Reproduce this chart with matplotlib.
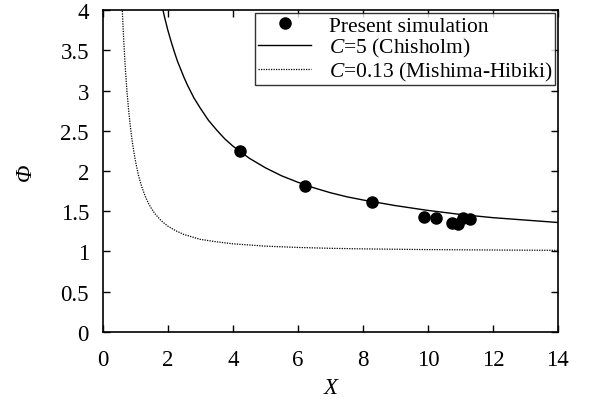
import matplotlib
matplotlib.use("Agg")
import matplotlib.pyplot as plt

plt.rcParams["font.family"] = ["Liberation Serif", "DejaVu Serif"]
plt.rcParams["mathtext.fontset"] = "custom"
plt.rcParams["mathtext.it"] = "Liberation Serif:italic"
plt.rcParams["mathtext.rm"] = "Liberation Serif"

# present simulation points
sim_x = [4.22, 6.23, 8.27, 9.87, 10.26, 10.75, 10.93, 11.08, 11.3]
sim_phi = [2.25, 1.81, 1.61, 1.43, 1.42, 1.35, 1.34, 1.42, 1.40]

# C=5 (Chisholm) curve
chis_x = [1.85, 1.9, 1.95, 2.0, 2.1, 2.2, 2.3, 2.4, 2.5, 2.6, 2.8, 3.0, 3.25,
          3.5, 3.75, 4.0, 4.5, 5.0, 5.5, 6.0, 6.5, 7.0, 7.5, 8.0, 9.0, 10.0,
          11.0, 12.0, 13.0, 14.0]
chis_phi = [4.00, 3.91, 3.83, 3.75, 3.61, 3.48, 3.36, 3.26, 3.16, 3.07, 2.91,
            2.78, 2.63, 2.51, 2.40, 2.31, 2.16, 2.04, 1.94, 1.86, 1.79, 1.73,
            1.68, 1.64, 1.57, 1.51, 1.46, 1.42, 1.39, 1.36]

# C=0.13 (Mishima-Hibiki) curve
mh_x = [0.6, 0.625, 0.65, 0.675, 0.7, 0.75, 0.8, 0.85, 0.9, 0.95, 1.0, 1.1,
        1.2, 1.3, 1.4, 1.5, 1.6, 1.8, 2.0, 2.25, 2.5, 2.75, 3.0, 3.5, 4.0,
        5.0, 6.0, 7.0, 8.0, 10.0, 12.0, 14.0]
mh_phi = [3.99, 3.77, 3.57, 3.39, 3.23, 2.95, 2.73, 2.54, 2.38, 2.25, 2.13,
          1.94, 1.80, 1.69, 1.60, 1.53, 1.47, 1.38, 1.315, 1.256, 1.21, 1.18,
          1.15, 1.12, 1.095, 1.066, 1.05, 1.039, 1.032, 1.023, 1.018, 1.014]

fig = plt.figure(figsize=(5.91, 4.10), dpi=100)
ax = fig.add_axes([0.174, 0.188, 0.770, 0.785])

ax.plot(sim_x, sim_phi, "o", color="black", markersize=8,
        label="Present simulation")
ax.plot(chis_x, chis_phi, "-", color="black", linewidth=1.0,
        label="$C$=5 (Chisholm)")
ax.plot(mh_x, mh_phi, color="black", linewidth=0.9, linestyle=(0, (1, 1)),
        label="$C$=0.13 (Mishima-Hibiki)")

ax.set_xlim(0, 14)
ax.set_ylim(0, 4)
ax.set_xticks([0, 2, 4, 6, 8, 10, 12, 14])
ax.set_yticks([0, 0.5, 1, 1.5, 2, 2.5, 3, 3.5, 4])
ax.set_yticklabels(["0", "0.5", "1", "1.5", "2", "2.5", "3", "3.5", "4"])
ax.tick_params(direction="in", top=True, right=True, length=5, width=1,
               labelsize=16.5, pad=10)
ax.tick_params(axis="x", pad=12)
for s in ax.spines.values():
    s.set_linewidth(1.2)

ax.set_xlabel("X", fontsize=16.5, fontstyle="italic", labelpad=5)
ax.set_ylabel("Φ", fontsize=16.5, fontstyle="italic", labelpad=18)

leg = ax.legend(loc="upper right", fontsize=15.5, frameon=True, fancybox=False,
                edgecolor="black", handlelength=2.5, borderpad=0.12,
                labelspacing=0.02, handletextpad=0.8, borderaxespad=0.15)
leg.get_frame().set_linewidth(1.0)

fig.savefig("out.png", dpi=100)
